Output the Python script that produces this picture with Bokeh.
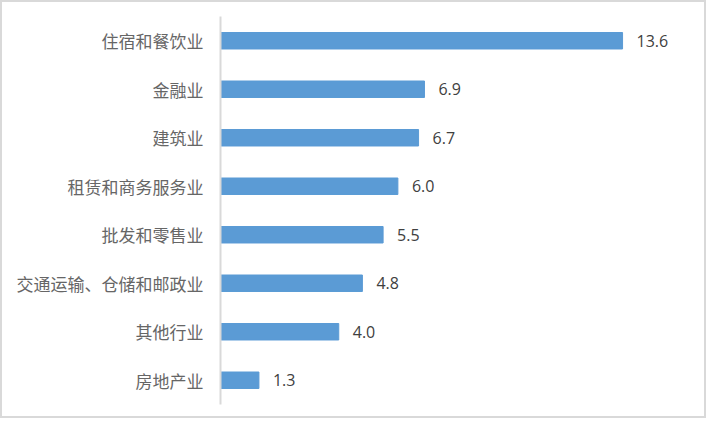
from bokeh.plotting import figure
from bokeh.models import ColumnDataSource, LabelSet, Range1d, FactorRange
from bokeh.core.properties import value
from bokeh.embed import file_html
from bokeh.resources import INLINE

categories = ["住宿和餐饮业", "金融业", "建筑业", "租赁和商务服务业", "批发和零售业",
              "交通运输、仓储和邮政业", "其他行业", "房地产业"]
values = [13.6, 6.9, 6.7, 6.0, 5.5, 4.8, 4.0, 1.3]
value_labels = ["13.6", "6.9", "6.7", "6.0", "5.5", "4.8", "4.0", "1.3"]

src = ColumnDataSource(dict(cat=categories, val=values, lab=value_labels))

p = figure(width=706, height=418, output_backend="svg", toolbar_location=None,
           y_range=FactorRange(*list(reversed(categories)), range_padding=0),
           x_range=Range1d(0, 16.0),
           min_border_left=218, min_border_right=15, min_border_top=14, min_border_bottom=16)

p.hbar(y="cat", right="val", left=0, height=0.34, source=src, color="#5b9bd5")

labels = LabelSet(x="val", y="cat", text="lab", source=src, x_offset=14,
                  text_baseline="middle", text_align="left",
                  text_font=value("Open Sans"), text_font_size="16px", text_color="#404040")
p.add_layout(labels)

p.xaxis.visible = False
p.xgrid.visible = False
p.ygrid.visible = False
p.outline_line_color = None

ax = p.yaxis[0]
ax.axis_line_color = "#d9d9d9"
ax.axis_line_width = 2
ax.major_tick_line_color = None
ax.minor_tick_line_color = None
ax.major_label_standoff = 11
ax.major_label_text_font = "Noto Sans CJK SC"
ax.major_label_text_font_size = "17px"
ax.major_label_text_color = "#666666"

p.styles = {"border": "2px solid #d9d9d9", "box-sizing": "border-box"}

open("out.html", "w").write(file_html(p, INLINE))
